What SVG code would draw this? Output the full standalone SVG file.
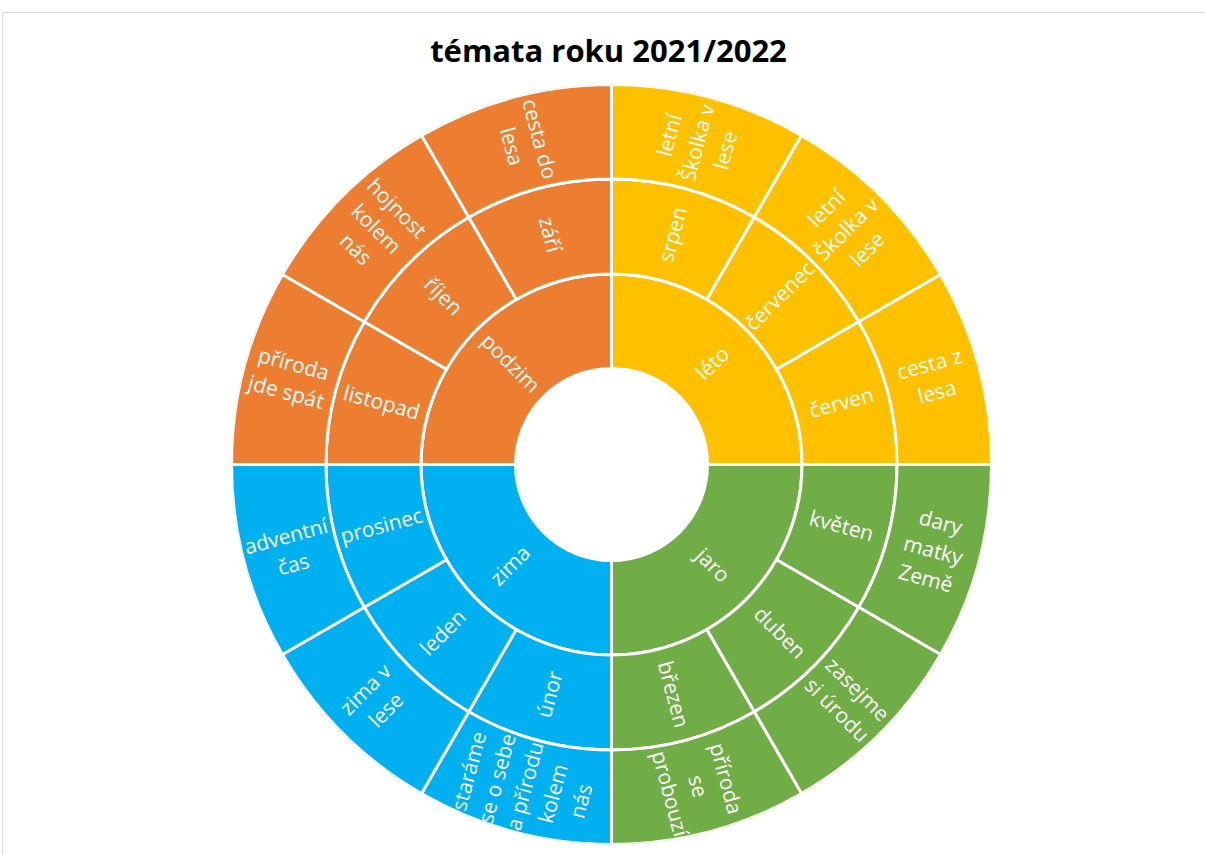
<svg xmlns="http://www.w3.org/2000/svg" width="1205" height="855" viewBox="0 0 1205 855">
<style>
.s{stroke:#fff;stroke-width:3;stroke-linejoin:miter}
.o{fill:#ED7D31}.y{fill:#FFC000}.g{fill:#70AD47}.b{fill:#00B0F0}
.t{font-family:"Open Sans","Liberation Sans",sans-serif;font-size:21px;fill:#fff;text-anchor:middle}
.title{font-family:"Open Sans","Liberation Sans",sans-serif;font-size:31px;font-weight:bold;fill:#000;text-anchor:middle}
</style>
<defs>
<clipPath id="circ"><circle cx="611.5" cy="464.5" r="380"/></clipPath>
</defs>
<rect x="0" y="0" width="1205" height="855" fill="#fff"/>
<rect x="2.5" y="12.5" width="1215" height="860" fill="none" stroke="#d9d9d9" stroke-width="1"/>
<text class="title" x="608.5" y="62">témata roku 2021/2022</text>
<g id="connectors"/>
<g clip-path="url(#circ)">
<!-- ring 1 -->
<g id="leto"><path class="s y" d="M611.5,274 A190.5,190.5 0 0 1 802,464.5 L707.5,464.5 A96,96 0 0 0 611.5,368.5 Z"/>
<text class="t" transform="translate(712.6,363.4) rotate(-45)"><tspan x="0" y="7">léto</tspan></text></g>
<g id="jaro"><path class="s g" d="M802,464.5 A190.5,190.5 0 0 1 611.5,655 L611.5,560.5 A96,96 0 0 0 707.5,464.5 Z"/>
<text class="t" transform="translate(712.6,565.6) rotate(45)"><tspan x="0" y="7">jaro</tspan></text></g>
<g id="zima"><path class="s b" d="M611.5,655 A190.5,190.5 0 0 1 421,464.5 L515.5,464.5 A96,96 0 0 0 611.5,560.5 Z"/>
<text class="t" transform="translate(510.4,565.6) rotate(-45)"><tspan x="0" y="7">zima</tspan></text></g>
<g id="podzim"><path class="s o" d="M421,464.5 A190.5,190.5 0 0 1 611.5,274 L611.5,368.5 A96,96 0 0 0 515.5,464.5 Z"/>
<text class="t" transform="translate(510.4,363.4) rotate(45)"><tspan x="0" y="7">podzim</tspan></text></g>
<!-- ring 2 -->
<g id="srpen"><path class="s y" d="M611.5,179 A285.5,285.5 0 0 1 754.25,217.25 L706.75,299.52 A190.5,190.5 0 0 0 611.5,274 Z"/>
<text class="t" transform="translate(673.1,234.6) rotate(-75)"><tspan x="0" y="7">srpen</tspan></text></g>
<g id="cervenec"><path class="s y" d="M754.25,217.25 A285.5,285.5 0 0 1 858.75,321.75 L776.48,369.25 A190.5,190.5 0 0 0 706.75,299.52 Z"/>
<text class="t" transform="translate(779.8,296.2) rotate(-45)"><tspan x="0" y="7">červenec</tspan></text></g>
<g id="cerven"><path class="s y" d="M858.75,321.75 A285.5,285.5 0 0 1 897,464.5 L802,464.5 A190.5,190.5 0 0 0 776.48,369.25 Z"/>
<text class="t" transform="translate(841.4,402.9) rotate(-15)"><tspan x="0" y="7">červen</tspan></text></g>
<g id="kveten"><path class="s g" d="M897,464.5 A285.5,285.5 0 0 1 858.75,607.25 L776.48,559.75 A190.5,190.5 0 0 0 802,464.5 Z"/>
<text class="t" transform="translate(841.4,526.1) rotate(15)"><tspan x="0" y="7">květen</tspan></text></g>
<g id="duben"><path class="s g" d="M858.75,607.25 A285.5,285.5 0 0 1 754.25,711.75 L706.75,629.48 A190.5,190.5 0 0 0 776.48,559.75 Z"/>
<text class="t" transform="translate(779.8,632.8) rotate(45)"><tspan x="0" y="7">duben</tspan></text></g>
<g id="brezen"><path class="s g" d="M754.25,711.75 A285.5,285.5 0 0 1 611.5,750 L611.5,655 A190.5,190.5 0 0 0 706.75,629.48 Z"/>
<text class="t" transform="translate(673.1,694.4) rotate(75)"><tspan x="0" y="7">březen</tspan></text></g>
<g id="unor"><path class="s b" d="M611.5,750 A285.5,285.5 0 0 1 468.75,711.75 L516.25,629.48 A190.5,190.5 0 0 0 611.5,655 Z"/>
<text class="t" transform="translate(549.9,694.4) rotate(-75)"><tspan x="0" y="7">únor</tspan></text></g>
<g id="leden"><path class="s b" d="M468.75,711.75 A285.5,285.5 0 0 1 364.25,607.25 L446.52,559.75 A190.5,190.5 0 0 0 516.25,629.48 Z"/>
<text class="t" transform="translate(443.2,632.8) rotate(-45)"><tspan x="0" y="7">leden</tspan></text></g>
<g id="prosinec"><path class="s b" d="M364.25,607.25 A285.5,285.5 0 0 1 326,464.5 L421,464.5 A190.5,190.5 0 0 0 446.52,559.75 Z"/>
<text class="t" transform="translate(381.6,526.1) rotate(-15)"><tspan x="0" y="7">prosinec</tspan></text></g>
<g id="listopad"><path class="s o" d="M326,464.5 A285.5,285.5 0 0 1 364.25,321.75 L446.52,369.25 A190.5,190.5 0 0 0 421,464.5 Z"/>
<text class="t" transform="translate(381.6,402.9) rotate(15)"><tspan x="0" y="7">listopad</tspan></text></g>
<g id="rijen"><path class="s o" d="M364.25,321.75 A285.5,285.5 0 0 1 468.75,217.25 L516.25,299.52 A190.5,190.5 0 0 0 446.52,369.25 Z"/>
<text class="t" transform="translate(443.2,296.2) rotate(45)"><tspan x="0" y="7">říjen</tspan></text></g>
<g id="zari"><path class="s o" d="M468.75,217.25 A285.5,285.5 0 0 1 611.5,179 L611.5,274 A190.5,190.5 0 0 0 516.25,299.52 Z"/>
<text class="t" transform="translate(549.9,234.6) rotate(75)"><tspan x="0" y="7">září</tspan></text></g>
<!-- ring 3 -->
<g id="t-srpen"><path class="s y" d="M611.5,84.5 A380,380 0 0 1 801.5,135.41 L754.25,217.25 A285.5,285.5 0 0 0 611.5,179 Z"/>
<text class="t" transform="translate(697.7,142.8) rotate(-75)"><tspan x="0" y="-22">letní</tspan><tspan x="0" y="7">Školka v</tspan><tspan x="0" y="36">lese</tspan></text></g>
<g id="t-cervenec"><path class="s y" d="M801.5,135.41 A380,380 0 0 1 940.59,274.5 L858.75,321.75 A285.5,285.5 0 0 0 754.25,217.25 Z"/>
<text class="t" transform="translate(847,229) rotate(-45)"><tspan x="0" y="-22">letní</tspan><tspan x="0" y="7">Školka v</tspan><tspan x="0" y="36">lese</tspan></text></g>
<g id="t-cerven"><path class="s y" d="M940.59,274.5 A380,380 0 0 1 991.5,464.5 L897,464.5 A285.5,285.5 0 0 0 858.75,321.75 Z"/>
<text class="t" transform="translate(933.2,378.3) rotate(-15)"><tspan x="0" y="-7.5">cesta z</tspan><tspan x="0" y="21.5">lesa</tspan></text></g>
<g id="t-kveten"><path class="s g" d="M991.5,464.5 A380,380 0 0 1 940.59,654.5 L858.75,607.25 A285.5,285.5 0 0 0 897,464.5 Z"/>
<text class="t" transform="translate(933.2,550.7) rotate(15)"><tspan x="0" y="-22">dary</tspan><tspan x="0" y="7">matky</tspan><tspan x="0" y="36">Země</tspan></text></g>
<g id="t-duben"><path class="s g" d="M940.59,654.5 A380,380 0 0 1 801.5,793.59 L754.25,711.75 A285.5,285.5 0 0 0 858.75,607.25 Z"/>
<text class="t" transform="translate(847,700) rotate(45)"><tspan x="0" y="-7.5">zasejme</tspan><tspan x="0" y="21.5">si úrodu</tspan></text></g>
<g id="t-brezen"><path class="s g" d="M801.5,793.59 A380,380 0 0 1 611.5,844.5 L611.5,750 A285.5,285.5 0 0 0 754.25,711.75 Z"/>
<text class="t" transform="translate(697.7,786.2) rotate(75)"><tspan x="0" y="-22">příroda</tspan><tspan x="0" y="7">se</tspan><tspan x="0" y="36">probouzí</tspan></text></g>
<g id="t-unor"><path class="s b" d="M611.5,844.5 A380,380 0 0 1 421.5,793.59 L468.75,711.75 A285.5,285.5 0 0 0 611.5,750 Z"/>
<text class="t" transform="translate(525.3,786.2) rotate(-75)"><tspan x="0" y="-51">staráme</tspan><tspan x="0" y="-22">se o sebe</tspan><tspan x="0" y="7">a přírodu</tspan><tspan x="0" y="36">kolem</tspan><tspan x="0" y="65">nás</tspan></text></g>
<g id="t-leden"><path class="s b" d="M421.5,793.59 A380,380 0 0 1 282.41,654.5 L364.25,607.25 A285.5,285.5 0 0 0 468.75,711.75 Z"/>
<text class="t" transform="translate(376,700) rotate(-45)"><tspan x="0" y="-7.5">zima v</tspan><tspan x="0" y="21.5">lese</tspan></text></g>
<g id="t-prosinec"><path class="s b" d="M282.41,654.5 A380,380 0 0 1 231.5,464.5 L326,464.5 A285.5,285.5 0 0 0 364.25,607.25 Z"/>
<text class="t" transform="translate(289.8,550.7) rotate(-15)"><tspan x="0" y="-7.5">adventní</tspan><tspan x="0" y="21.5">čas</tspan></text></g>
<g id="t-listopad"><path class="s o" d="M231.5,464.5 A380,380 0 0 1 282.41,274.5 L364.25,321.75 A285.5,285.5 0 0 0 326,464.5 Z"/>
<text class="t" transform="translate(289.8,378.3) rotate(15)"><tspan x="0" y="-7.5">příroda</tspan><tspan x="0" y="21.5">jde spát</tspan></text></g>
<g id="t-rijen"><path class="s o" d="M282.41,274.5 A380,380 0 0 1 421.5,135.41 L468.75,217.25 A285.5,285.5 0 0 0 364.25,321.75 Z"/>
<text class="t" transform="translate(376,229) rotate(45)"><tspan x="0" y="-22">hojnost</tspan><tspan x="0" y="7">kolem</tspan><tspan x="0" y="36">nás</tspan></text></g>
<g id="t-zari"><path class="s o" d="M421.5,135.41 A380,380 0 0 1 611.5,84.5 L611.5,179 A285.5,285.5 0 0 0 468.75,217.25 Z"/>
<text class="t" transform="translate(525.3,142.8) rotate(75)"><tspan x="0" y="-7.5">cesta do</tspan><tspan x="0" y="21.5">lesa</tspan></text></g>
</g>
</svg>
